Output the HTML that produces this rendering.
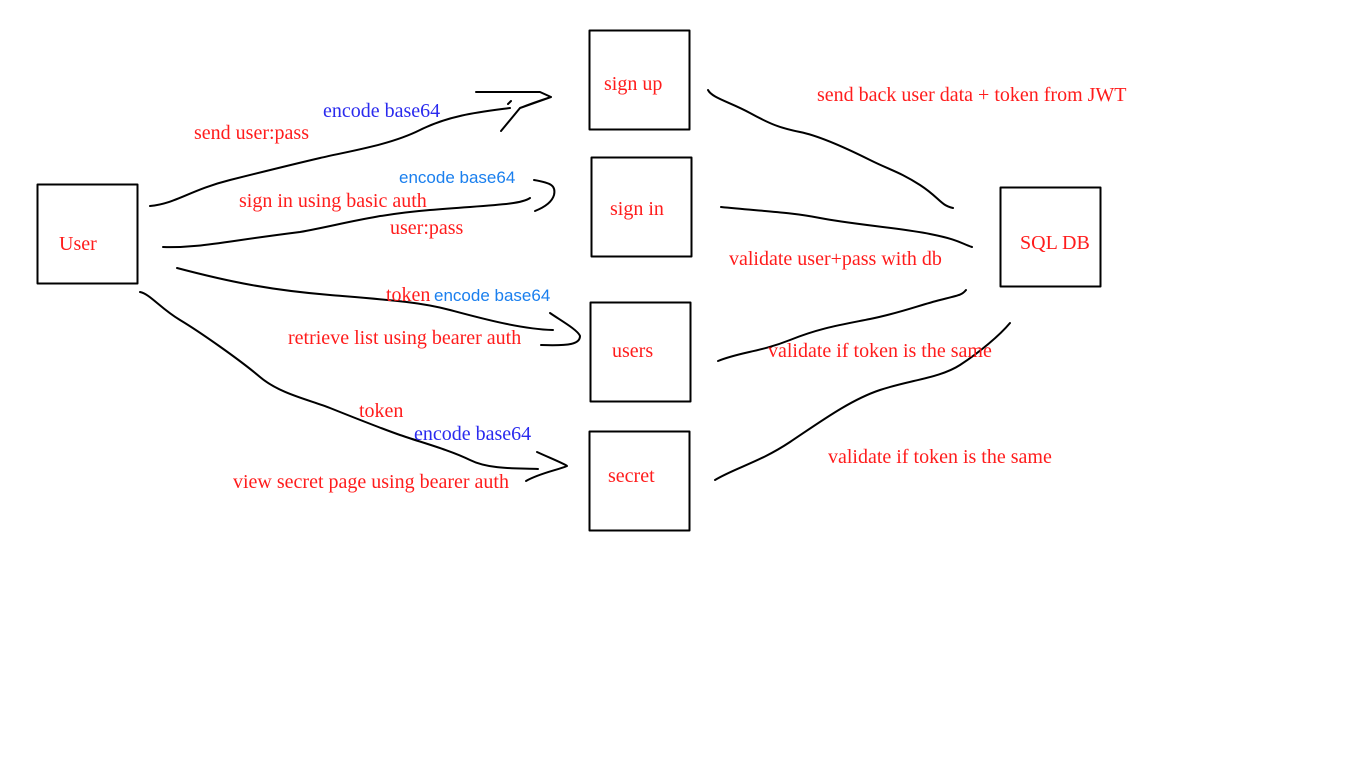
<!DOCTYPE html>
<html><head><meta charset="utf-8"><style>
html,body{margin:0;padding:0;background:#fff;}
body{width:1366px;height:768px;position:relative;overflow:hidden;}
.t{position:absolute;font-family:"Liberation Serif",serif;font-size:20px;color:#ff1c1c;white-space:nowrap;line-height:1;}
.b{color:#2a2aee;}
.s{font-family:"Liberation Sans",sans-serif;font-size:17px;color:#1a7fee;}
svg{position:absolute;left:0;top:0;}
</style></head><body>
<svg width="1366" height="768" fill="none" stroke="#000" stroke-width="2" stroke-linecap="round" stroke-linejoin="round">
<rect x="37.5" y="184.5" width="100" height="99"/>
<rect x="589.5" y="30.5" width="100" height="99"/>
<rect x="591.5" y="157.5" width="100" height="99"/>
<rect x="590.5" y="302.5" width="100" height="99"/>
<rect x="589.5" y="431.5" width="100" height="99"/>
<rect x="1000.5" y="187.5" width="100" height="99"/>
<path d="M150 206 C175 204 190 190 230 180 S 290 165 320 158 S 390 145 420 130 S 480 112 510 108"/>
<path d="M476 92 L540 92 L551 97 L520 108 L501 131 M508 104 L511 101 M520 108 C535 102 545 99 551 97"/>
<path d="M163 247 C200 248 220 242 300 232 C340 225 370 215 430 210 S 520 205 530 198"/>
<path d="M534 180 C552 183 556 186 554 195 C552 202 545 207 535 211"/>
<path d="M177 268 C230 282 270 290 330 295 S 420 302 450 310 S 520 329 553 330"/>
<path d="M550 313 C560 320 578 330 580 336 C580 344 570 346 541 345"/>
<path d="M140 292 C150 294 160 308 180 320 S 240 360 260 377 S 310 400 330 408 S 380 428 400 435 S 450 450 470 460 S 520 468 538 469"/>
<path d="M537 452 C550 458 565 464 567 466 C558 470 540 473 526 481"/>
<path d="M708 90 C712 98 730 102 750 113 S 780 128 800 132 S 850 150 870 160 S 900 172 920 185 S 940 205 953 208"/>
<path d="M721 207 C760 211 790 212 820 218 S 900 228 930 234 S 960 243 972 247"/>
<path d="M718 361 C740 352 760 352 790 340 S 840 325 870 319 S 920 305 940 300 S 962 295 966 290"/>
<path d="M715 480 C735 468 760 462 790 442 S 850 400 880 390 S 940 378 960 365 S 1000 335 1010 323"/>
</svg>
<div class="t" style="left:59px;top:234px">User</div>
<div class="t" style="left:604px;top:74px">sign up</div>
<div class="t" style="left:610px;top:199px">sign in</div>
<div class="t" style="left:612px;top:341px">users</div>
<div class="t" style="left:608px;top:466px">secret</div>
<div class="t" style="left:1020px;top:233px">SQL DB</div>
<div class="t b" style="left:323px;top:101px">encode base64</div>
<div class="t" style="left:194px;top:123px">send user:pass</div>
<div class="t s" style="left:399px;top:169px">encode base64</div>
<div class="t" style="left:239px;top:191px">sign in using basic auth</div>
<div class="t" style="left:390px;top:218px">user:pass</div>
<div class="t" style="left:386px;top:285px">token</div>
<div class="t s" style="left:434px;top:287px">encode base64</div>
<div class="t" style="left:288px;top:328px">retrieve list using bearer auth</div>
<div class="t" style="left:359px;top:401px">token</div>
<div class="t b" style="left:414px;top:424px">encode base64</div>
<div class="t" style="left:233px;top:472px">view secret page using bearer auth</div>
<div class="t" style="left:817px;top:85px">send back user data + token from JWT</div>
<div class="t" style="left:729px;top:249px">validate user+pass with db</div>
<div class="t" style="left:768px;top:341px">validate if token is the same</div>
<div class="t" style="left:828px;top:447px">validate if token is the same</div>
</body></html>
